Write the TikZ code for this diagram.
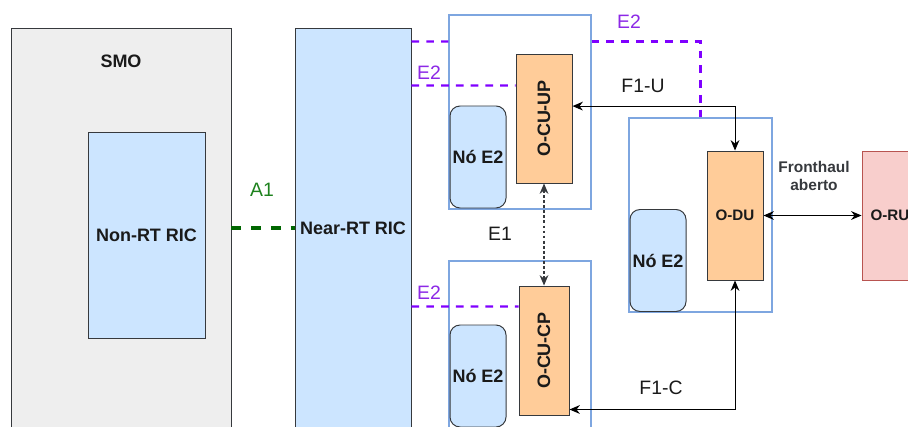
\documentclass[tikz,border=0pt]{standalone}
\usepackage{fontspec}
\setmainfont{Liberation Sans}
\usepackage{graphicx}
\usetikzlibrary{positioning,arrows.meta}

\definecolor{boxline}{HTML}{36393D}
\definecolor{ricblue}{HTML}{CCE5FF}
\definecolor{frameblue}{HTML}{7EA6E0}
\definecolor{cuorange}{HTML}{FFCC99}
\definecolor{rupink}{HTML}{F8CECC}
\definecolor{ruline}{HTML}{B85450}
\definecolor{smogray}{HTML}{EEEEEE}
\definecolor{etwo}{RGB}{127,0,255}
\definecolor{etwotext}{RGB}{140,40,230}
\definecolor{aone}{RGB}{0,102,0}
\definecolor{aonetext}{RGB}{30,130,30}
\definecolor{txt}{HTML}{1A1A1A}

\begin{document}
\begin{tikzpicture}[
    x=1cm,y=1cm,
    >={Stealth[length=2.6mm,width=2.2mm]},
    block/.style={
        draw=boxline,
        line width=0.7pt,
        text=txt,
        font=\fontsize{12.8}{14}\selectfont\bfseries,
        inner sep=0pt
    },
    ric/.style={block, fill=ricblue, minimum width=2.9cm},
    cu/.style={block, fill=cuorange, minimum height=3.225cm},
    nodee/.style={
        block, fill=ricblue, rounded corners=2.5mm,
        minimum width=1.4cm, minimum height=2.55cm
    },
    frame/.style={
        draw=frameblue, line width=0.75pt,
        minimum width=3.55cm, minimum height=4.85cm
    },
    e2link/.style={draw=etwo, line width=1.7pt, dash pattern=on 5.5pt off 5pt},
    arrow/.style={<->, line width=0.7pt, draw=black},
    lbl/.style={font=\fontsize{13.8}{15}\selectfont, text=txt}
]
    \clip (0,0) rectangle (22.7,10.65);

    \node[frame] (upcont) at (13.0,7.85) {};
    \node[frame] (cpcont) at (13.0,1.7) {};
    \node[frame, minimum width=3.575cm] (ducont) at (17.5125,5.275) {};

    \node[block, fill=smogray, minimum width=5.5cm, minimum height=10cm]
        (smo) at (3.025,4.95) {};
    \node[font=\fontsize{12.8}{14}\selectfont\bfseries, text=txt]
        (smotxt) [below=0.55cm of smo.north] {SMO};
    \node[ric, minimum width=2.925cm, minimum height=5.15cm]
        (nonrt) at (3.6625,4.775) {Non-RT RIC};
    \node[ric, minimum height=10cm] (near) at (8.825,4.95) {Near-RT RIC};

    \node[cu, minimum width=1.4cm] (ocuup) at (13.6,7.6875)
        {\rotatebox{90}{O-CU-UP}};
    \node[cu, minimum width=1.25cm] (ocucp) at (13.6,1.8875)
        {\rotatebox{90}{O-CU-CP}};
    \node[nodee] (e2up) at (11.95,6.725) {Nó E2};
    \node[nodee] (e2cp) at (11.95,1.25) {Nó E2};
    \node[nodee] (e2du) at (16.45,4.1375) {Nó E2};

    \node[cu, minimum width=1.4cm, font=\fontsize{10.8}{12}\selectfont\bfseries]
        (odu) at (18.375,5.2625) {O-DU};
    \node[block, fill=rupink, draw=ruline, minimum width=1.4cm,
        minimum height=3.225cm, font=\fontsize{10.8}{12}\selectfont\bfseries]
        (oru) at (22.25,5.2625) {O-RU};

    % interfaces
    \draw[draw=aone, line width=2.2pt, dash pattern=on 7pt off 7pt]
        (smo.east) -- (near.west);
    \node[lbl, text=aonetext] (aonelbl) at (6.55,5.9) {A1};

    % E2 vers O-DU, coupe au cadre O-CU-UP
    \draw[e2link] ([yshift=-3.5mm]near.north east) -- ([yshift=-6.75mm]upcont.north west);
    \draw[e2link] ([yshift=-6.75mm]upcont.north east) -| (ducont.north);
    \draw[e2link] ([yshift=-14.5mm]near.north east) -- ([yshift=-8mm]ocuup.north west);
    \draw[e2link] ([yshift=-69.75mm]near.north east) -- ([yshift=-5.25mm]ocucp.north west);
    \node[lbl, text=etwotext] (etwoa) at (15.725,10.1) {E2};
    \node[lbl, text=etwotext] (etwob) at (10.725,8.825) {E2};
    \node[lbl, text=etwotext] (etwoc) at (10.725,3.325) {E2};

    \draw[<->, line width=0.8pt, draw=boxline, dash pattern=on 2pt off 1.6pt]
        (ocuup.south) -- (ocucp.north);
    \node[lbl] (eone) at (12.5,4.8) {E1};

    \draw[arrow] ([yshift=3.1mm]ocuup.east) -| (odu.north);
    \node[lbl] (fuu) at (16.075,8.5) {F1-U};
    \draw[arrow] ([yshift=1.5mm]ocucp.south east) -| (odu.south);
    \node[lbl] (fcc) at (16.525,0.95) {F1-C};

    \draw[arrow] (odu.east) -- (oru.west);
    \node[font=\fontsize{11}{12.5}\selectfont\bfseries, text=boxline, align=center]
        (fh) at (20.35,6.25) {Fronthaul\\aberto};

\end{tikzpicture}
\end{document}
